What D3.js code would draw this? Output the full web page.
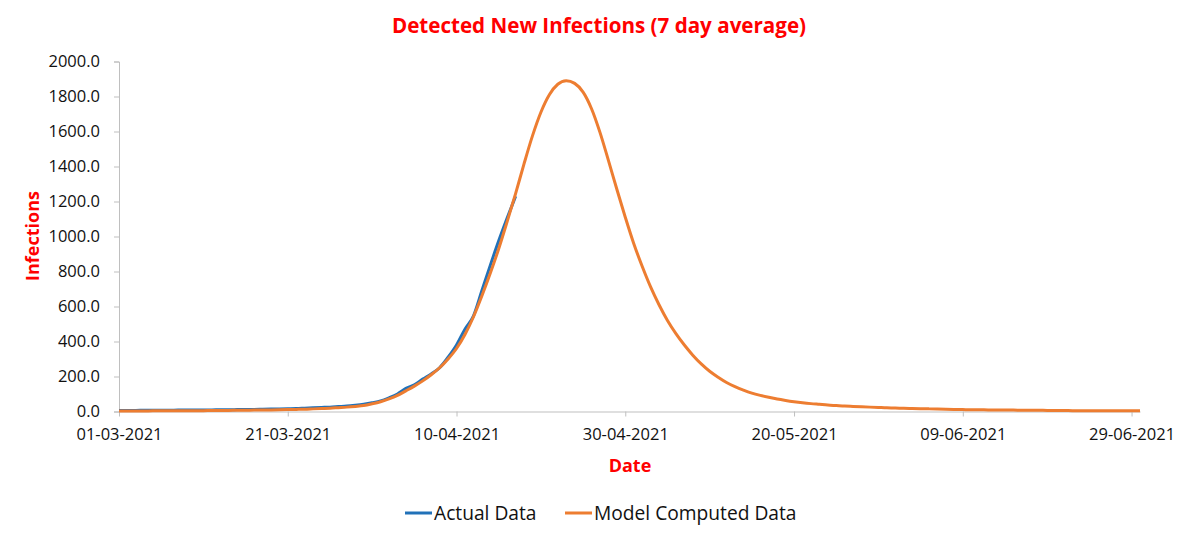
<!DOCTYPE html>
<html>
<head>
<meta charset="utf-8">
<script src="https://cdn.jsdelivr.net/npm/d3@7"></script>
<style>
  html, body { margin: 0; padding: 0; background: #fff; }
  svg { display: block; font-family: "Open Sans", sans-serif; }
</style>
</head>
<body>
<svg id="chart" width="1200" height="539"></svg>
<script>
// ---- data ----
const startDate = "01-03-2021";
const xTickLabels = ["01-03-2021", "21-03-2021", "10-04-2021", "30-04-2021", "20-05-2021", "09-06-2021", "29-06-2021"];
const yTicks = [0, 200, 400, 600, 800, 1000, 1200, 1400, 1600, 1800, 2000];
const seriesNames = ["Actual Data", "Model Computed Data"];

// daily values starting 01-03-2021
const actualData = [
  6, 6, 6, 7, 7, 7, 7, 8, 8, 8,
  9, 9, 10, 10, 11, 12, 12, 13, 14, 15,
  16, 17, 19, 21, 23, 25, 28, 31, 36, 42,
  50, 60, 78, 100, 132, 152, 185, 215, 250, 310,
  380, 470, 545, 690, 835, 975, 1105, 1230
];
const modelData = [
  3, 3, 3, 3, 4, 4, 4, 4, 5, 5,
  5, 6, 6, 6, 7, 7, 8, 8, 9, 10,
  11, 12, 13, 15, 17, 19, 22, 25, 29, 34,
  44, 56, 72, 92, 118, 145, 175, 210, 250, 300,
  360, 440, 540, 660, 790, 930, 1085, 1245, 1415, 1575,
  1710, 1810, 1870, 1890, 1875, 1825, 1730, 1595, 1435, 1270,
  1110, 960, 830, 712, 610, 520, 445, 380, 322, 272,
  230, 196, 166, 142, 122, 105, 92, 81, 71, 63,
  56, 50, 45, 41, 37, 34, 31, 29, 27, 25,
  23, 21, 20, 18, 17, 16, 15, 14, 13, 12,
  11, 10, 10, 9, 9, 8, 8, 7, 7, 7,
  6, 6, 6, 5, 5, 5, 5, 4, 4, 4,
  4, 4
];

// ---- chart ----
const parse = d3.utcParse("%d-%m-%Y");
const t0 = parse(startDate);
const dayOf = i => d3.utcDay.offset(t0, i);

const svg = d3.select("#chart");
const x = d3.scaleUtc()
  .domain([t0, dayOf(modelData.length - 1)])
  .range([119, 1140]);
const y = d3.scaleLinear().domain([0, 2000]).range([411.5, 61.5]);

const axisColor = "#bfbfbf";
const textColor = "#111";

// Y axis
const yAxis = svg.append("g").attr("transform", "translate(119,0)")
  .call(d3.axisLeft(y).tickValues(yTicks).tickFormat(d3.format(".1f")).tickSize(5).tickPadding(14));
yAxis.select(".domain").attr("stroke", axisColor);
yAxis.selectAll(".tick line").attr("stroke", axisColor);
yAxis.selectAll(".tick text").attr("fill", textColor)
  .style("font-family", "'Open Sans', sans-serif").style("font-size", "16.5px");

// X axis
const xAxis = svg.append("g").attr("transform", "translate(0,411.5)")
  .call(d3.axisBottom(x).tickValues(xTickLabels.map(parse))
    .tickFormat(d3.utcFormat("%d-%m-%Y")).tickSizeInner(5).tickSizeOuter(0).tickPadding(12));
xAxis.select(".domain").attr("stroke", axisColor);
xAxis.selectAll(".tick line").attr("stroke", axisColor);
xAxis.selectAll(".tick text").attr("fill", textColor)
  .style("font-family", "'Open Sans', sans-serif").style("font-size", "16.5px");

// lines
const line = d3.line()
  .x((d, i) => x(dayOf(i)))
  .y(d => y(d))
  .curve(d3.curveMonotoneX);

const colors = ["#2171b8", "#ed7d31"];
svg.append("path").datum(actualData)
  .attr("fill", "none").attr("stroke", colors[0]).attr("stroke-width", 3)
  .attr("stroke-linejoin", "round").attr("d", line);
svg.append("path").datum(modelData)
  .attr("fill", "none").attr("stroke", colors[1]).attr("stroke-width", 3)
  .attr("stroke-linejoin", "round").attr("d", line);

// title
svg.append("text").attr("x", 599).attr("y", 33).attr("text-anchor", "middle")
  .attr("fill", "#f00").style("font-weight", "bold").style("font-size", "20.6px")
  .text("Detected New Infections (7 day average)");

// axis titles
svg.append("text").attr("x", 630).attr("y", 472).attr("text-anchor", "middle")
  .attr("fill", "#f00").style("font-weight", "bold").style("font-size", "18px")
  .text("Date");
svg.append("text").attr("transform", "translate(39,236) rotate(-90)").attr("text-anchor", "middle")
  .attr("fill", "#f00").style("font-weight", "bold").style("font-size", "18px")
  .text("Infections");

// legend
const legendItems = [
  { name: seriesNames[0], color: colors[0], x: 405 },
  { name: seriesNames[1], color: colors[1], x: 565 }
];
const lg = svg.append("g");
legendItems.forEach(it => {
  lg.append("line").attr("x1", it.x).attr("x2", it.x + 27).attr("y1", 513).attr("y2", 513)
    .attr("stroke", it.color).attr("stroke-width", 3);
  lg.append("text").attr("x", it.x + 29).attr("y", 513).attr("dy", "0.35em")
    .attr("fill", textColor).style("font-size", "19.2px").text(it.name);
});
</script>
</body>
</html>
